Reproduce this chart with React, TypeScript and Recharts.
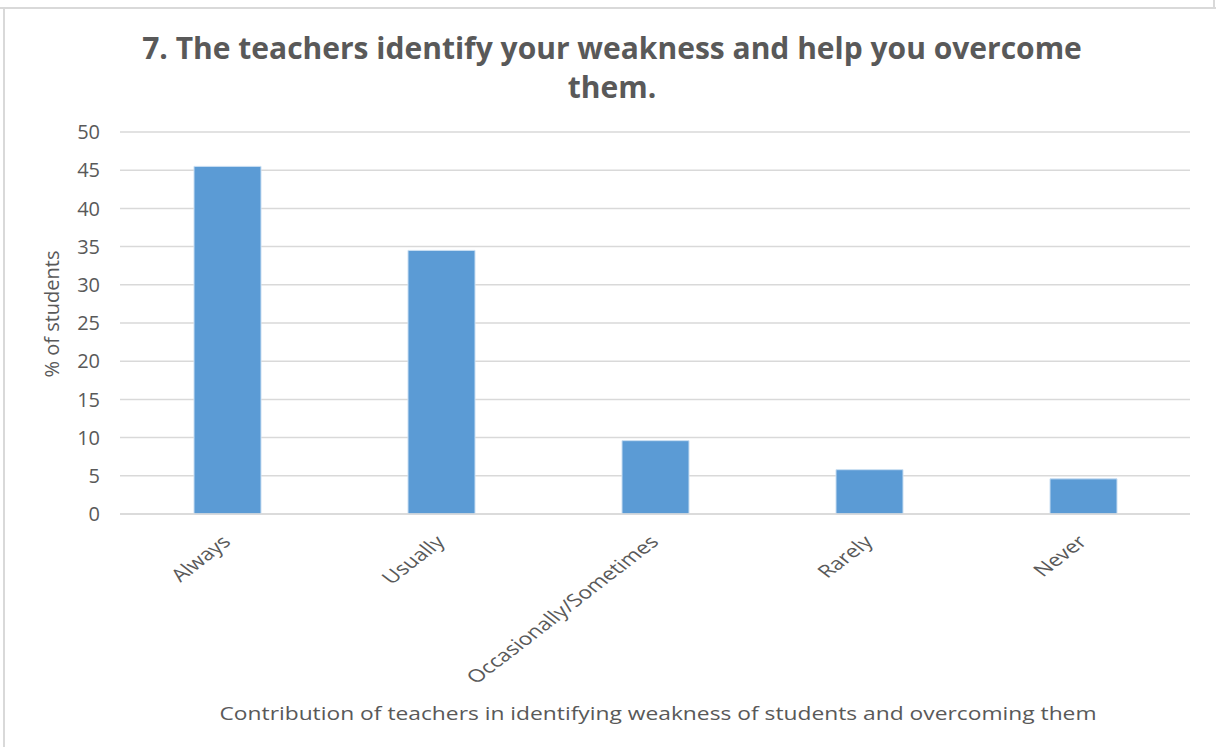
import { BarChart, Bar, XAxis, YAxis, CartesianGrid, Label } from "recharts"

const categories = ["Always", "Usually", "Occasionally/Sometimes", "Rarely", "Never"]
const percentStudents = [45.5, 34.5, 9.6, 5.8, 4.6]
const yTicks = [0, 5, 10, 15, 20, 25, 30, 35, 40, 45, 50]

const data = categories.map((c, i) => ({ category: c, value: percentStudents[i] }))

const FONT = "'Open Sans', 'Noto Sans', sans-serif"
const GREY = "#595959"

// the reference is a bit stretched sideways, so the slanted labels are too
function XTick({ x, y, payload }: any) {
  return (
    <g transform={`translate(${x + 5},${y + 29}) scale(1.27,0.98)`}>
      <text
        transform="rotate(-45)"
        textAnchor="end"
        fontFamily={FONT}
        fontSize={18}
        fill={GREY}
      >
        {payload.value}
      </text>
    </g>
  )
}

export default function App() {
  return (
    <div style={{ position: "absolute", left: 0, top: 0, width: 1216, height: 747, background: "#fff", fontFamily: FONT }}>
      {/* frame lines */}
      <div style={{ position: "absolute", left: 0, top: 7, width: 1216, height: 2, background: "#d9d9d9" }} />
      <div style={{ position: "absolute", left: 1213, top: 0, width: 2, height: 8, background: "#d9d9d9" }} />
      <div style={{ position: "absolute", left: 3, top: 9, width: 2, height: 738, background: "#d9d9d9" }} />

      <div
        style={{
          position: "absolute",
          left: 0,
          top: 28,
          width: 1224,
          textAlign: "center",
          fontSize: 30,
          fontWeight: 700,
          color: GREY,
          lineHeight: "39px",
        }}
      >
        7. The teachers identify your weakness and help you overcome
        <br />
        them.
      </div>

      <div style={{ position: "absolute", left: 0, top: 0 }}>
        <BarChart
          width={1216}
          height={747}
          data={data}
          margin={{ top: 132, right: 26, bottom: 0, left: 60 }}
        >
          <CartesianGrid vertical={false} stroke="#d9d9d9" strokeWidth={1.5} />
          <XAxis
            dataKey="category"
            interval={0}
            height={233}
            tickSize={0}
            tickMargin={0}
            tick={<XTick />}
            axisLine={{ stroke: "#d9d9d9", strokeWidth: 1.5 }}
            tickLine={false}
          >
            <Label
              content={() => (
                <text
                  x={658}
                  y={720}
                  textAnchor="middle"
                  fontFamily="'Liberation Sans Narrow', 'Open Sans', sans-serif"
                  fontSize={19}
                  fill={GREY}
                  textLength={877}
                  lengthAdjust="spacingAndGlyphs"
                >
                  Contribution of teachers in identifying  weakness of students and  overcoming them
                </text>
              )}
            />
          </XAxis>
          <YAxis
            width={60}
            domain={[0, 50]}
            ticks={yTicks}
            interval={0}
            tickSize={0}
            tickMargin={20}
            axisLine={false}
            tickLine={false}
            tick={{ fill: GREY, fontSize: 20, fontFamily: FONT }}
          >
            <Label
              content={() => (
                <text
                  transform="translate(59,314) rotate(-90)"
                  textAnchor="middle"
                  fontFamily={FONT}
                  fontSize={20}
                  fill={GREY}
                >
                  % of students
                </text>
              )}
            />
          </YAxis>
          <Bar
            dataKey="value"
            fill="#5b9bd5"
            stroke="#c9def2"
            strokeWidth={1}
            barSize={67}
            isAnimationActive={false}
          />
        </BarChart>
      </div>
    </div>
  )
}
